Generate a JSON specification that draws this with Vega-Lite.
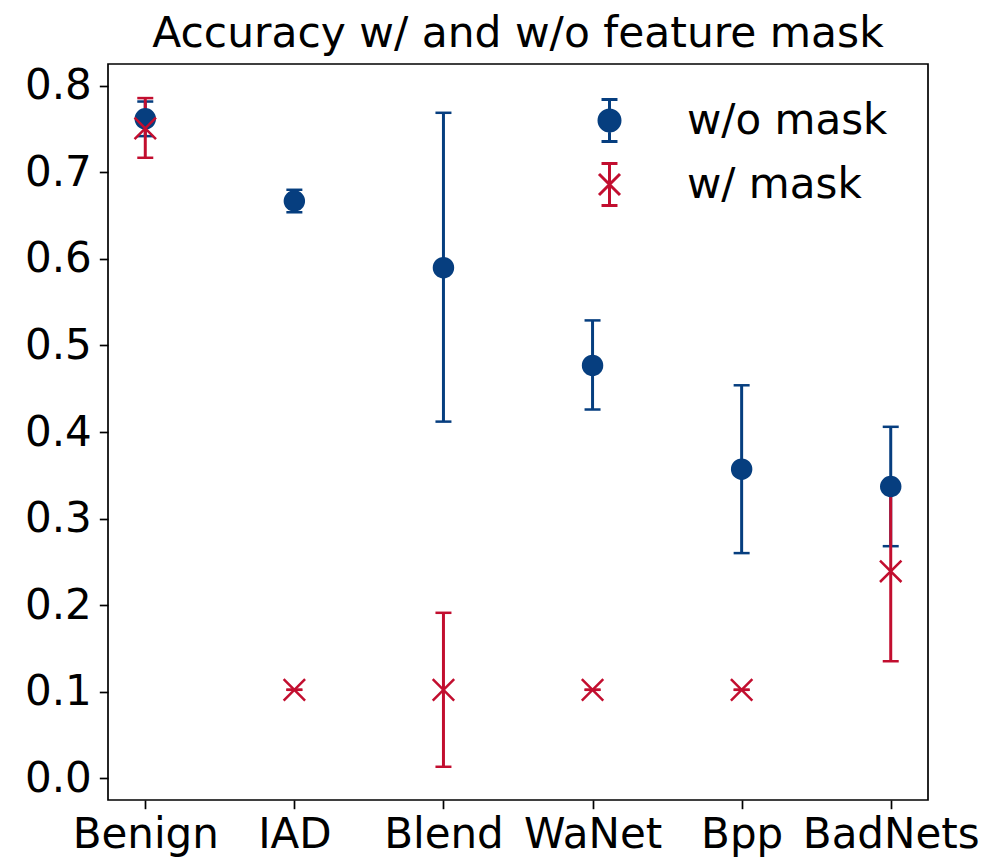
{
  "$schema": "https://vega.github.io/schema/vega-lite/v6.json",
  "autosize": "none",
  "width": 820,
  "height": 736,
  "padding": {"left": 108, "top": 64, "right": 80, "bottom": 60},
  "background": "white",
  "title": {"text": "Accuracy w/ and w/o feature mask", "fontSize": 42.4, "fontWeight": "normal", "color": "#000", "anchor": "middle", "frame": "group", "baseline": "bottom", "offset": -34},
  "data": {"values": [
    {"cat": "Benign", "series": "w/o mask", "mean": 0.762, "lo": 0.742, "hi": 0.782},
    {"cat": "IAD", "series": "w/o mask", "mean": 0.667, "lo": 0.654, "hi": 0.680},
    {"cat": "Blend", "series": "w/o mask", "mean": 0.590, "lo": 0.412, "hi": 0.769},
    {"cat": "WaNet", "series": "w/o mask", "mean": 0.477, "lo": 0.426, "hi": 0.529},
    {"cat": "Bpp", "series": "w/o mask", "mean": 0.357, "lo": 0.260, "hi": 0.454},
    {"cat": "BadNets", "series": "w/o mask", "mean": 0.337, "lo": 0.268, "hi": 0.406},
    {"cat": "Benign", "series": "w/ mask", "mean": 0.751, "lo": 0.717, "hi": 0.786},
    {"cat": "IAD", "series": "w/ mask", "mean": 0.102, "lo": 0.102, "hi": 0.102},
    {"cat": "Blend", "series": "w/ mask", "mean": 0.102, "lo": 0.013, "hi": 0.191},
    {"cat": "WaNet", "series": "w/ mask", "mean": 0.102, "lo": 0.102, "hi": 0.102},
    {"cat": "Bpp", "series": "w/ mask", "mean": 0.102, "lo": 0.102, "hi": 0.102},
    {"cat": "BadNets", "series": "w/ mask", "mean": 0.239, "lo": 0.135, "hi": 0.343}
  ]},
  "encoding": {
    "x": {"field": "cat", "type": "nominal", "sort": ["Benign", "IAD", "Blend", "WaNet", "Bpp", "BadNets"],
      "scale": {"type": "point", "padding": 0.25},
      "axis": {"title": null, "labelAngle": 0, "labelOverlap": false, "labelPadding": 6, "labelFontSize": 42, "labelColor": "#000", "domain": false, "tickColor": "#000", "tickWidth": 1.7, "tickSize": 8.7, "grid": false}}
  },
  "layer": [
    {
      "transform": [{"filter": "datum.series == 'w/o mask'"}],
      "mark": {"type": "rule", "color": "#063e7f", "strokeWidth": 3},
      "encoding": {
        "y": {"field": "lo", "type": "quantitative", "scale": {"domain": [-0.0254, 0.8254], "nice": false, "zero": false},
          "axis": {"title": null, "values": [0, 0.1, 0.2, 0.3, 0.4, 0.5, 0.6, 0.7, 0.8], "format": ".1f", "labelFontSize": 42, "labelColor": "#000", "labelPadding": 8, "domain": false, "tickColor": "#000", "tickWidth": 1.7, "tickSize": 8.7, "grid": false}},
        "y2": {"field": "hi"}
      }
    },
    {
      "transform": [{"filter": "datum.series == 'w/o mask'"}],
      "mark": {"type": "tick", "orient": "horizontal", "color": "#063e7f", "size": 16, "thickness": 2.5, "opacity": 1},
      "encoding": {"y": {"field": "lo", "type": "quantitative"}}
    },
    {
      "transform": [{"filter": "datum.series == 'w/o mask'"}],
      "mark": {"type": "tick", "orient": "horizontal", "color": "#063e7f", "size": 16, "thickness": 2.5, "opacity": 1},
      "encoding": {"y": {"field": "hi", "type": "quantitative"}}
    },
    {
      "transform": [{"filter": "datum.series == 'w/ mask'"}],
      "mark": {"type": "rule", "color": "#c20e2f", "strokeWidth": 3},
      "encoding": {
        "y": {"field": "lo", "type": "quantitative"},
        "y2": {"field": "hi"}
      }
    },
    {
      "transform": [{"filter": "datum.series == 'w/ mask'"}],
      "mark": {"type": "tick", "orient": "horizontal", "color": "#c20e2f", "size": 16, "thickness": 2.5, "opacity": 1},
      "encoding": {"y": {"field": "lo", "type": "quantitative"}}
    },
    {
      "transform": [{"filter": "datum.series == 'w/ mask'"}],
      "mark": {"type": "tick", "orient": "horizontal", "color": "#c20e2f", "size": 16, "thickness": 2.5, "opacity": 1},
      "encoding": {"y": {"field": "hi", "type": "quantitative"}}
    },
    {
      "transform": [{"filter": "datum.series == 'w/o mask'"}],
      "mark": {"type": "point", "shape": "circle", "filled": true, "color": "#063e7f", "size": 460, "opacity": 1, "strokeWidth": 0},
      "encoding": {"y": {"field": "mean", "type": "quantitative"}}
    },
    {
      "transform": [{"filter": "datum.series == 'w/ mask'"}],
      "mark": {"type": "point", "shape": "M-1,-1L1,1M-1,1L1,-1", "filled": false, "color": "#c20e2f", "size": 460, "opacity": 1, "strokeWidth": 2.5},
      "encoding": {"y": {"field": "mean", "type": "quantitative"}}
    },
    {
      "mark": {"type": "point", "filled": true, "opacity": 0},
      "encoding": {
        "y": {"field": "mean", "type": "quantitative"},
        "fill": {"field": "series", "type": "nominal", "scale": {"domain": ["w/o mask", "w/ mask"], "range": ["#063e7f", "#c20e2f"]},
          "legend": {"title": null, "orient": "none", "legendX": 479, "legendY": 34, "symbolSize": 1764, "symbolStrokeWidth": 3, "symbolOpacity": 1, "labelFontSize": 42, "labelColor": "#000", "labelOffset": 55, "labelLimit": 500, "rowPadding": 9, "padding": 0}},
        "stroke": {"field": "series", "type": "nominal", "scale": {"domain": ["w/o mask", "w/ mask"], "range": ["#063e7f", "#c20e2f"]},
          "legend": {"title": null, "orient": "none", "legendX": 479, "legendY": 34, "symbolSize": 1764, "symbolStrokeWidth": 3, "symbolOpacity": 1, "labelFontSize": 42, "labelColor": "#000", "labelOffset": 55, "labelLimit": 500, "rowPadding": 9, "padding": 0}},
        "shape": {"field": "series", "type": "nominal", "scale": {"domain": ["w/o mask", "w/ mask"], "range": [
          "M0,-1L0,1M-0.38,-1L0.38,-1M-0.38,1L0.38,1M0.5,0A0.5,0.5,0,1,1,-0.5,0A0.5,0.5,0,1,1,0.5,0Z",
          "M0,-1L0,1M-0.38,-1L0.38,-1M-0.38,1L0.38,1M-0.5,-0.5L0.5,0.5M-0.5,0.5L0.5,-0.5"
        ]},
          "legend": {"title": null, "orient": "none", "legendX": 479, "legendY": 34, "symbolSize": 1764, "symbolStrokeWidth": 3, "symbolOpacity": 1, "labelFontSize": 42, "labelColor": "#000", "labelOffset": 55, "labelLimit": 500, "rowPadding": 9, "padding": 0}}
      }
    }
  ],
  "config": {
    "font": "DejaVu Sans",
    "view": {"stroke": "#000", "strokeWidth": 1.7},
    "legend": {"labelFont": "DejaVu Sans"},
    "axis": {"labelFont": "DejaVu Sans"}
  }
}
